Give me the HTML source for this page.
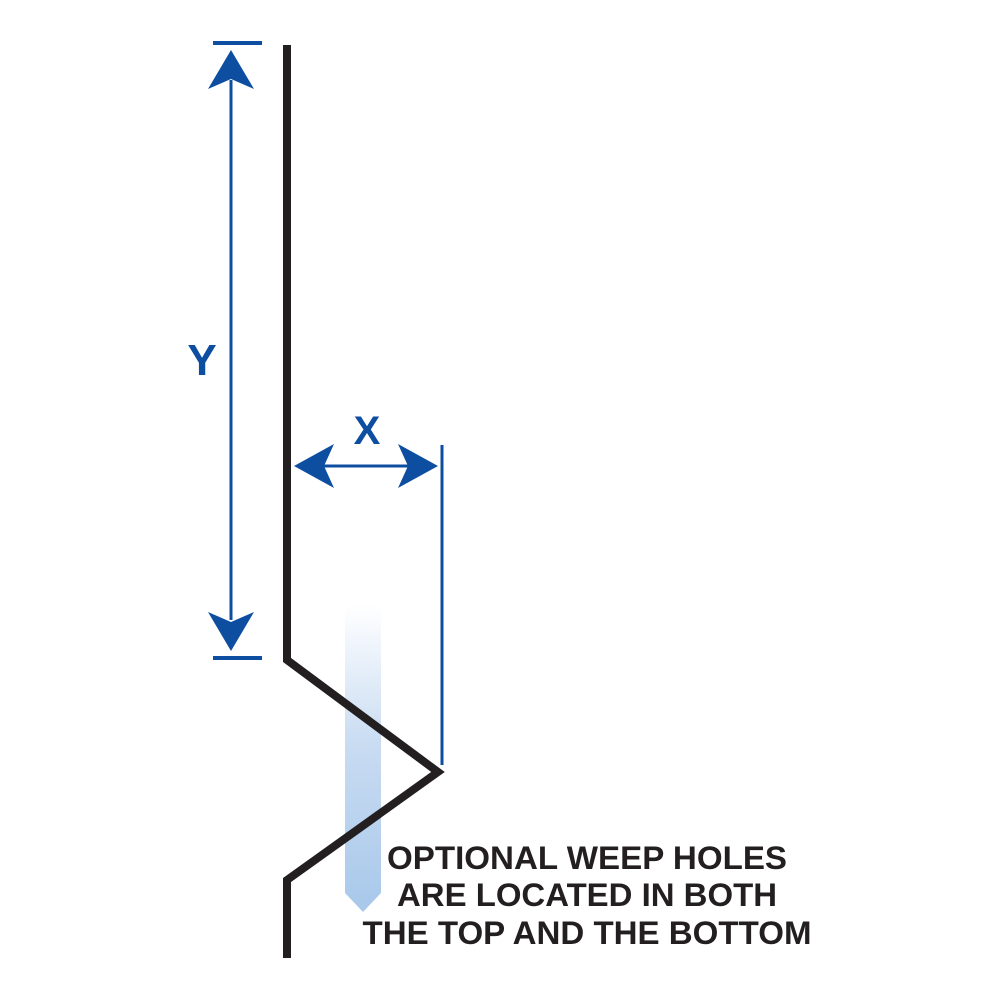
<!DOCTYPE html>
<html><head><meta charset="utf-8"><style>html,body{margin:0;padding:0;background:#fff}svg{display:block}</style></head>
<body>
<svg width="1000" height="1000" viewBox="0 0 1000 1000" xmlns="http://www.w3.org/2000/svg">
<defs>
<linearGradient id="g" x1="0" y1="0" x2="0" y2="1">
<stop offset="0" stop-color="#ffffff"/>
<stop offset="0.45" stop-color="#c9dcf2"/>
<stop offset="1" stop-color="#a8c8ea"/>
</linearGradient>
</defs>
<rect width="1000" height="1000" fill="#fff"/>
<polygon points="345,605 381,605 381,893 363,912 345,893" fill="url(#g)"/>
<polyline points="287,45 287,660 438,772 287,880 287,958" fill="none" stroke="#231f20" stroke-width="8" stroke-linejoin="miter"/>
<g fill="#0d4ea1" stroke="none">
<rect x="213" y="41" width="49" height="4"/>
<rect x="213" y="656" width="49" height="4"/>
<rect x="229.5" y="80" width="3" height="540"/>
<polygon points="231,50 254,89 231,79 208,89"/>
<polygon points="231,651 254,612 231,622 208,612"/>
<rect x="320" y="464.5" width="90" height="3"/>
<polygon points="294,466 334,444 324,466 334,488"/>
<polygon points="438,466 398,444 408,466 398,488"/>
<rect x="440.5" y="445" width="3" height="320"/>
<text x="202" y="375" font-family="Liberation Sans, sans-serif" font-weight="bold" font-size="44" text-anchor="middle">Y</text>
<text x="367" y="444" font-family="Liberation Sans, sans-serif" font-weight="bold" font-size="40" text-anchor="middle">X</text>
</g>
<g fill="#231f20" font-family="Liberation Sans, sans-serif" font-weight="bold" font-size="32" text-anchor="middle">
<text x="587" y="869" textLength="400" lengthAdjust="spacingAndGlyphs">OPTIONAL WEEP HOLES</text>
<text x="587" y="906" textLength="380" lengthAdjust="spacingAndGlyphs">ARE LOCATED IN BOTH</text>
<text x="587" y="944" textLength="449" lengthAdjust="spacingAndGlyphs">THE TOP AND THE BOTTOM</text>
</g>
</svg>
</body></html>
